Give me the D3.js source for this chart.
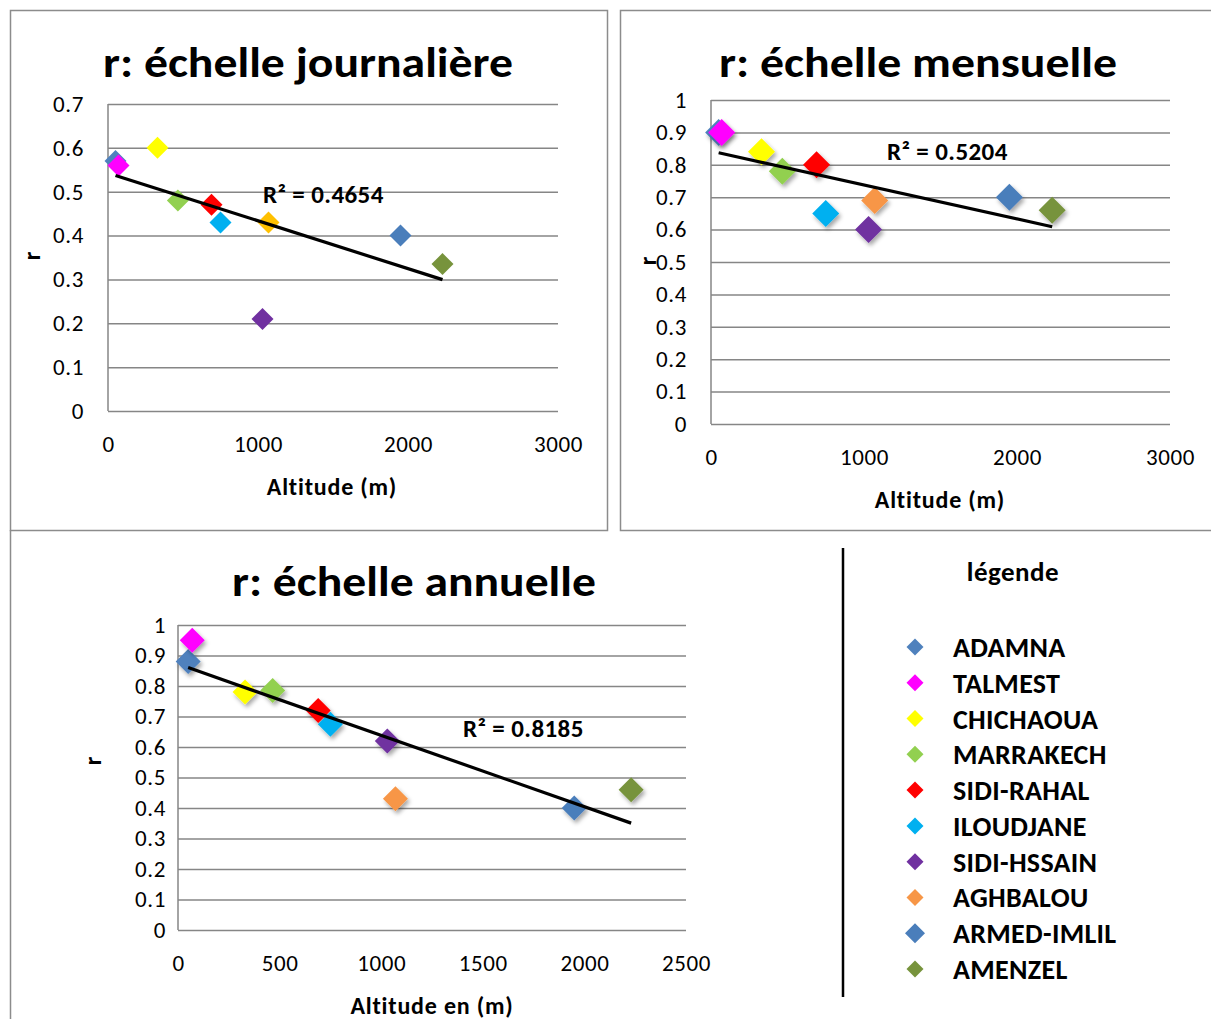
<!DOCTYPE html>
<html>
<head>
<meta charset="utf-8">
<script src="https://cdn.jsdelivr.net/npm/d3@7"></script>
<style>
  body { margin: 0; background: #fff; }
  text { font-family: Carlito, "Liberation Sans Narrow", Lato, sans-serif; }
</style>
</head>
<body>
<svg id="chart" width="1211" height="1019"></svg>
<script>
// stations & values
var stations = ["ADAMNA", "TALMEST", "CHICHAOUA", "MARRAKECH", "SIDI-RAHAL", "ILOUDJANE", "SIDI-HSSAIN", "AGHBALOU", "ARMED-IMLIL", "AMENZEL"];
var altitude = [50, 70, 330, 466, 690, 750, 1030, 1070, 1950, 2230];
var rDaily   = [0.57, 0.56, 0.60, 0.48, 0.47, 0.43, 0.21, 0.43, 0.40, 0.335];
var rMonthly = [0.90, 0.90, 0.84, 0.78, 0.80, 0.65, 0.60, 0.69, 0.70, 0.66];
var rAnnual  = [0.88, 0.95, 0.78, 0.785, 0.72, 0.675, 0.62, 0.43, 0.40, 0.46];
var colors   = ["#4F81BD", "#FF00FF", "#FFFF00", "#92D050", "#FF0000", "#00B0F0", "#7030A0", "#F79646", "#4A7EBB", "#77933C"];
var r2Labels = ["R² = 0.4654", "R² = 0.5204", "R² = 0.8185"];

var FONT = 'Carlito, "Liberation Sans Narrow", Lato, sans-serif';
var svg = d3.select("#chart");

var defs = svg.append("defs");
defs.append("filter").attr("id", "shadow")
  .attr("x", "-50%").attr("y", "-50%").attr("width", "200%").attr("height", "200%")
  .append("feDropShadow")
  .attr("dx", 2).attr("dy", 3).attr("stdDeviation", 2)
  .attr("flood-color", "#000").attr("flood-opacity", 0.35);

// panel frames
svg.append("rect").attr("x", 10.5).attr("y", 10.5).attr("width", 597).attr("height", 520)
  .attr("fill", "none").attr("stroke", "#8c8c8c").attr("stroke-width", 1.5);
svg.append("rect").attr("x", 620.5).attr("y", 10.5).attr("width", 600).attr("height", 520)
  .attr("fill", "none").attr("stroke", "#8c8c8c").attr("stroke-width", 1.5);
svg.append("line").attr("x1", 10.5).attr("x2", 10.5).attr("y1", 530).attr("y2", 1019)
  .attr("stroke", "#8c8c8c").attr("stroke-width", 1.5);

function diamond(s) {
  return "M0," + (-s) + "L" + s + ",0L0," + s + "L" + (-s) + ",0Z";
}

function regression(xs, ys) {
  var mx = d3.mean(xs), my = d3.mean(ys);
  var sxy = d3.sum(xs, function(x, i) { return (x - mx) * (ys[i] - my); });
  var sxx = d3.sum(xs, function(x) { return (x - mx) * (x - mx); });
  var b = sxy / sxx;
  return { a: my - b * mx, b: b };
}

function drawPanel(p) {
  var x = d3.scaleLinear().domain([0, p.xMax]).range([p.left, p.right]);
  var y = d3.scaleLinear().domain([0, p.yMax]).range([p.bottom, p.top]);
  var g = svg.append("g");

  // title
  g.append("text").attr("x", p.titleX).attr("y", p.titleY)
    .attr("text-anchor", "middle").attr("font-size", 42).attr("font-weight", "bold")
    .attr("textLength", p.titleW).attr("lengthAdjust", "spacingAndGlyphs")
    .text(p.title);

  // y grid + labels
  var yAxis = g.append("g").attr("transform", "translate(" + p.left + ",0)")
    .call(d3.axisLeft(y).tickValues(d3.range(0, p.yMax + 0.001, 0.1))
      .tickSize(-(p.right - p.left)).tickPadding(p.labelGap)
      .tickFormat(d3.format("~g")));
  yAxis.select(".domain").remove();
  yAxis.selectAll(".tick line").attr("stroke", "#868686").attr("stroke-width", 1.5);
  yAxis.selectAll(".tick text").attr("font-size", 23).attr("fill", "#000")
    .attr("letter-spacing", 0.6).style("font-family", FONT);

  // vertical axis line
  g.append("line").attr("x1", p.left).attr("x2", p.left).attr("y1", p.top).attr("y2", p.bottom)
    .attr("stroke", "#868686").attr("stroke-width", 1.5);

  // x labels
  var xAxis = g.append("g").attr("transform", "translate(0," + p.bottom + ")")
    .call(d3.axisBottom(x).ticks(p.xMax / p.xStep).tickSize(0).tickPadding(25)
      .tickFormat(d3.format("d")));
  xAxis.select(".domain").remove();
  xAxis.selectAll(".tick text").attr("font-size", 23).attr("fill", "#000")
    .attr("letter-spacing", 0.6).style("font-family", FONT);

  // axis titles
  g.append("text").attr("x", p.xTitleX).attr("y", p.xTitleY).attr("text-anchor", "middle")
    .attr("font-size", 24).attr("font-weight", "bold").attr("letter-spacing", 0.8).text(p.xTitle);
  g.append("text").attr("transform", "translate(" + p.yTitleX + "," + p.yTitleY + ") rotate(-90)")
    .attr("text-anchor", "middle").attr("font-size", 24).attr("font-weight", "bold").text("r");

  // points
  var pts = altitude.map(function(a, i) { return { x: a, y: p.values[i], c: p.colors[i] }; });
  g.selectAll("path.pt").data(pts).join("path").attr("class", "pt")
    .attr("d", diamond(p.markerR))
    .attr("transform", function(d) { return "translate(" + x(d.x) + "," + y(d.y) + ")"; })
    .attr("fill", function(d) { return d.c; })
    .attr("filter", p.shadow ? "url(#shadow)" : null);

  // trendline
  var fit = regression(altitude, p.values);
  var x0 = d3.min(altitude), x1 = d3.max(altitude);
  g.append("line")
    .attr("x1", x(x0)).attr("y1", y(fit.a + fit.b * x0))
    .attr("x2", x(x1)).attr("y2", y(fit.a + fit.b * x1))
    .attr("stroke", "#000").attr("stroke-width", 3.2);

  g.append("text").attr("x", p.r2X).attr("y", p.r2Y)
    .attr("font-size", 25).attr("font-weight", "bold").attr("letter-spacing", 0.4).text(p.r2);
}

var dailyColors = colors.slice();
dailyColors[7] = "#FFC000";

drawPanel({
  title: "r: échelle journalière", titleX: 308, titleY: 77, titleW: 410,
  left: 108, right: 558, top: 104, bottom: 411, xMax: 3000, xStep: 1000, yMax: 0.7,
  values: rDaily, colors: dailyColors, markerR: 11, shadow: false, labelGap: 24,
  xTitle: "Altitude (m)", xTitleX: 332, xTitleY: 495, yTitleX: 40, yTitleY: 256,
  r2: r2Labels[0], r2X: 263, r2Y: 203
});

drawPanel({
  title: "r: échelle mensuelle", titleX: 918, titleY: 77, titleW: 398,
  left: 711, right: 1170, top: 100, bottom: 424, xMax: 3000, xStep: 1000, yMax: 1,
  values: rMonthly, colors: colors, markerR: 13.5, shadow: true, labelGap: 24,
  xTitle: "Altitude (m)", xTitleX: 940, xTitleY: 508, yTitleX: 656, yTitleY: 261,
  r2: r2Labels[1], r2X: 887, r2Y: 160
});

drawPanel({
  title: "r: échelle annuelle", titleX: 414, titleY: 596, titleW: 364,
  left: 178, right: 686, top: 625, bottom: 930, xMax: 2500, xStep: 500, yMax: 1,
  values: rAnnual, colors: colors, markerR: 12.5, shadow: true, labelGap: 12,
  xTitle: "Altitude en (m)", xTitleX: 432, xTitleY: 1014, yTitleX: 101, yTitleY: 761,
  r2: r2Labels[2], r2X: 463, r2Y: 737
});

// legend
svg.append("line").attr("x1", 843).attr("x2", 843).attr("y1", 548).attr("y2", 997)
  .attr("stroke", "#000").attr("stroke-width", 2.5);
svg.append("text").attr("x", 1013).attr("y", 581).attr("text-anchor", "middle")
  .attr("font-size", 27).attr("font-weight", "bold").attr("letter-spacing", 0.5).text("légende");

var ly = d3.scalePoint().domain(stations).range([647, 969]);
var items = svg.append("g").selectAll("g").data(stations).join("g")
  .attr("transform", function(d) { return "translate(0," + ly(d) + ")"; });
items.append("path")
  .attr("d", function(d, i) { return diamond(i === 8 ? 10 : 8.5); })
  .attr("transform", "translate(915,0)")
  .attr("fill", function(d, i) { return colors[i]; });
items.append("text").attr("x", 953).attr("y", 10)
  .attr("font-size", 28).attr("font-weight", "bold").attr("letter-spacing", 0.3)
  .text(function(d) { return d; });
</script>
</body>
</html>
